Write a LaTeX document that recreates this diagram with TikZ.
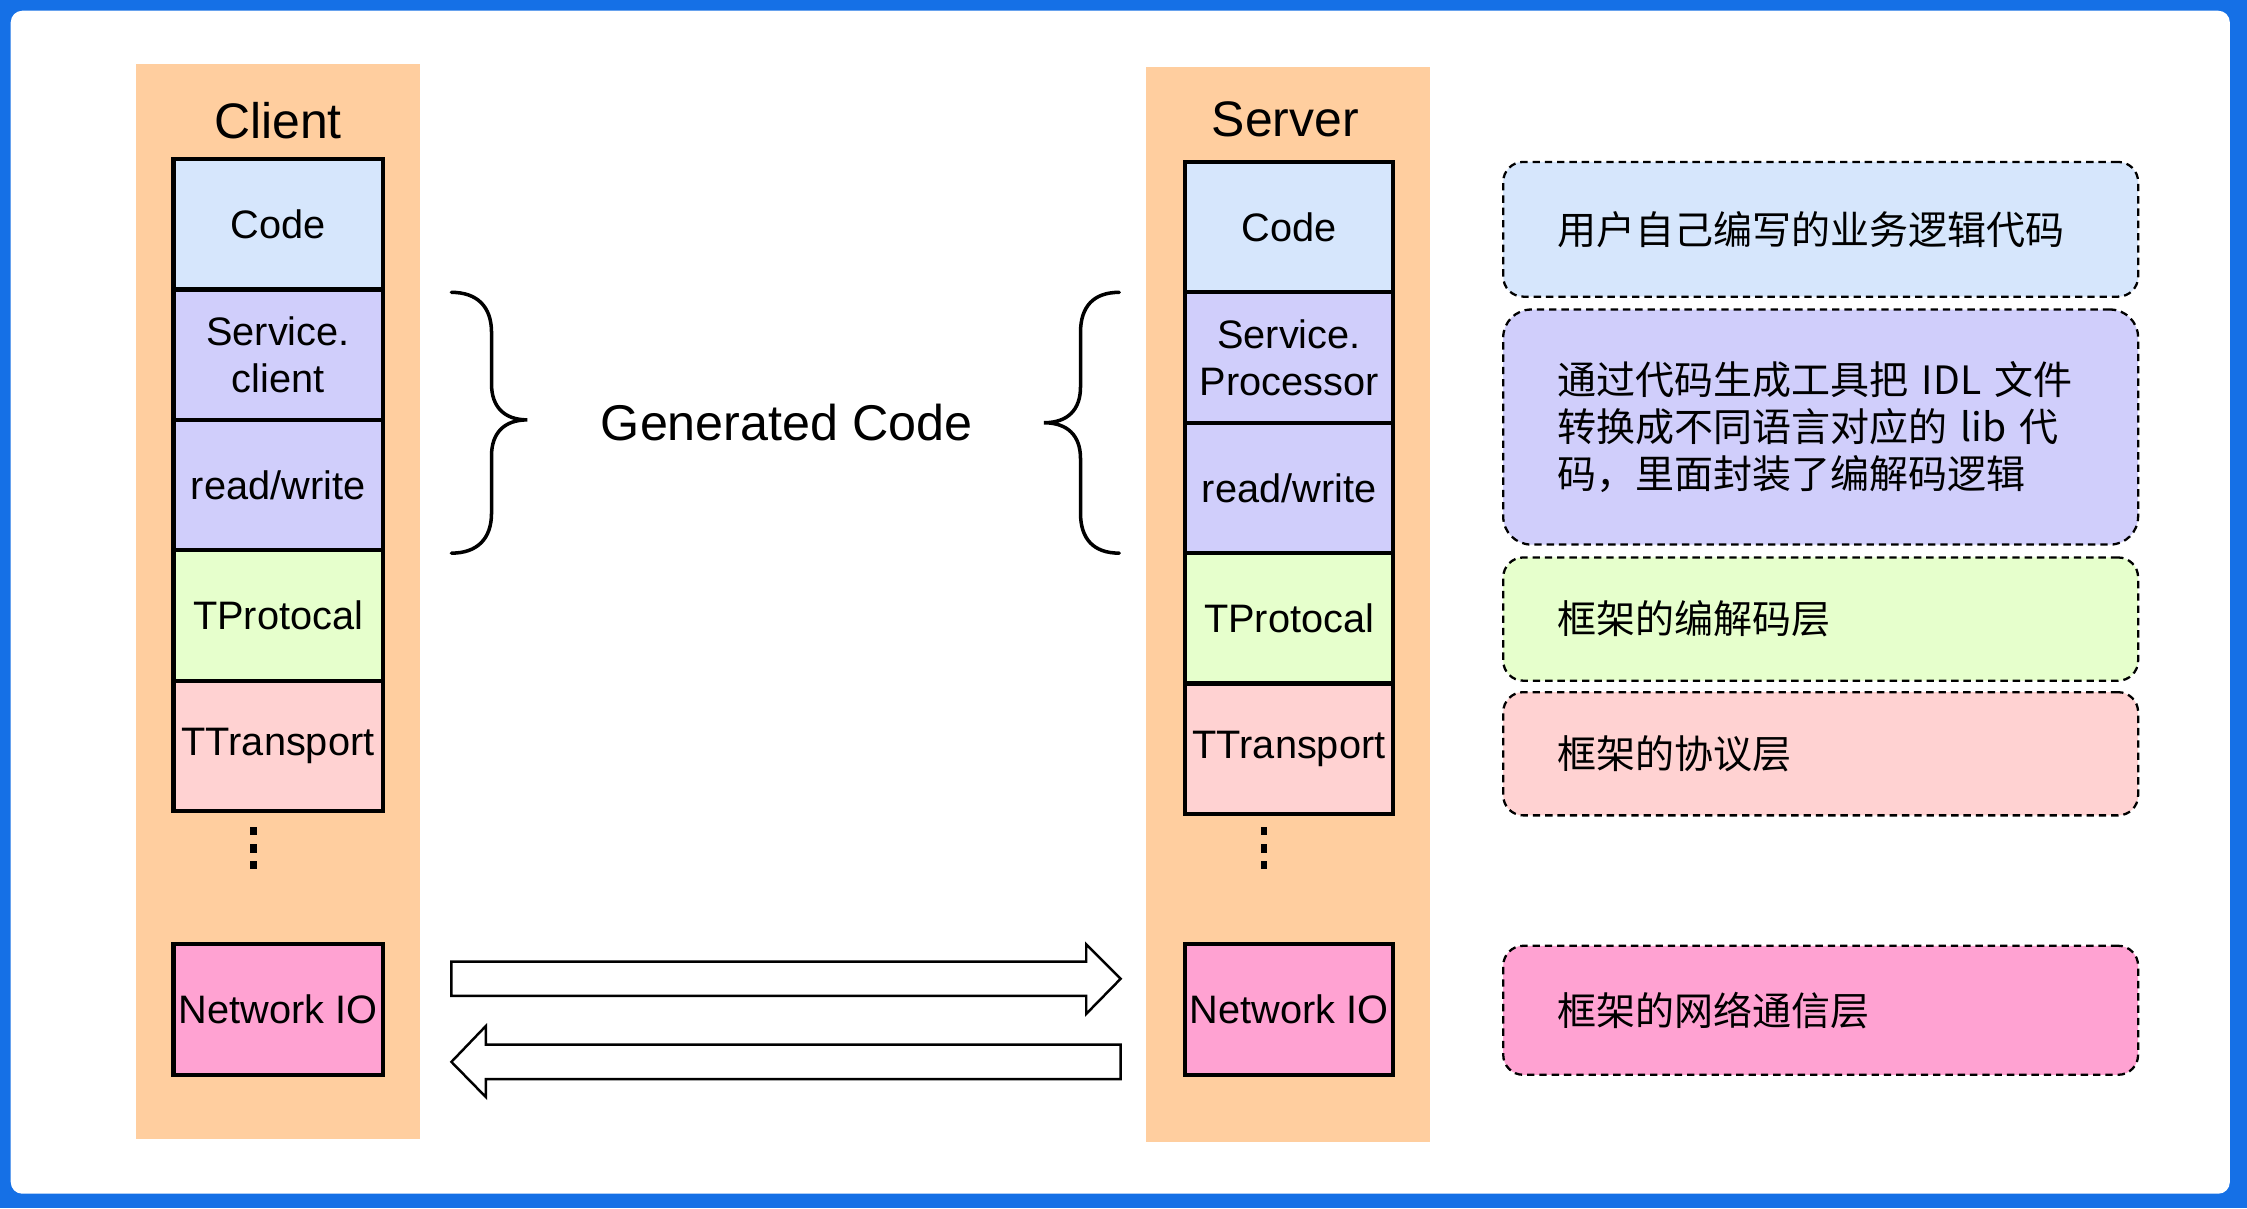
\documentclass[tikz,border=0pt]{standalone}
\usepackage{fontspec}
\setmainfont{Liberation Sans}
\newfontfamily\cjk{Noto Sans CJK SC}
\definecolor{framec}{HTML}{1570E6}
\definecolor{colc}{HTML}{FFCE9F}
\definecolor{codec}{HTML}{D6E6FC}
\definecolor{genc}{HTML}{D0CEFB}
\definecolor{protc}{HTML}{E6FFCC}
\definecolor{transc}{HTML}{FFD2D2}
\definecolor{netc}{HTML}{FFA2D2}
\begin{document}
\begin{tikzpicture}[x=0.01433cm, y=-0.01433cm,
  layer/.style={draw=black, line width=1.2pt, minimum width=2.092cm, minimum height=1.304cm,
    inner sep=0pt, align=center, font=\fontsize{11.3}{13.4}\selectfont},
  slayer/.style={layer, minimum width=2.078cm},
  desc/.style={draw=black, dash pattern=on 2.1pt off 1.4pt, line width=0.65pt, rounded corners=0.2cm,
    text width=5.259cm, inner xsep=0.5445cm, inner ysep=0pt, align=left,
    font=\cjk\fontsize{11.1}{13.3}\selectfont},
  title/.style={font=\fontsize{14.2}{16}\selectfont, inner sep=0pt},
  brace/.style={draw=black, line width=1pt, line cap=round},
  blockarrow/.style={draw=black, fill=white, line width=0.7pt, line join=miter}
]
\useasboundingbox (0,0) rectangle (1568,843);
% frame
\fill[framec] (0,0) rectangle (1568,843);
\fill[white, rounded corners=0.115cm] (7.5,7.5) rectangle (1556,833);

% columns
\fill[colc] (95,45) rectangle (293,795);
\fill[colc] (800,47) rectangle (998,797);

% titles
\node[title] (clientT) at (194,84) {Client};
\node[title] (serverT) at (897,83) {Server};

% client layers
\node[layer, fill=codec]  (c1) at (194,156.5) {Code};
\node[layer, fill=genc]   (c2) at (194,247.5) {Service.\\client};
\node[layer, fill=genc]   (c3) at (194,338.5) {read/write};
\node[layer, fill=protc]  (c4) at (194,429.5) {TProtocal};
\node[layer, fill=transc] (c5) at (194,520.5) {TTransport};
\node[layer, fill=netc]   (cn) at (194,704.5) {Network IO};

% server layers
\node[slayer, fill=codec]  (s1) at (899.5,158.5) {Code};
\node[slayer, fill=genc]   (s2) at (899.5,249.5) {Service.\\Processor};
\node[slayer, fill=genc]   (s3) at (899.5,340.5) {read/write};
\node[slayer, fill=protc]  (s4) at (899.5,431.5) {TProtocal};
\node[slayer, fill=transc] (s5) at (899.5,522.5) {TTransport};
\node[slayer, fill=netc]   (sn) at (899.5,704.5) {Network IO};

% dots
\foreach \yy in {580,592,603.6} {
  \fill[black] (177-2.3,\yy-3) rectangle (177+2.3,\yy+3);
  \fill[black] (882-2.3,\yy-3) rectangle (882+2.3,\yy+3);
}

% braces
\draw[brace] (315,204) .. controls (333,204) and (343,214) .. (343,232) -- (343,268)
  .. controls (343,284) and (352,293) .. (368,293)
  .. controls (352,293) and (343,302) .. (343,318) -- (343,358)
  .. controls (343,376) and (333,386) .. (315,386);
\draw[brace] (781,204) .. controls (763,204) and (754,214) .. (754,232) -- (754,270)
  .. controls (754,286) and (745,295) .. (728.5,295)
  .. controls (745,295) and (754,304) .. (754,320) -- (754,358)
  .. controls (754,376) and (763,386) .. (781,386);
\node[font=\fontsize{14.3}{17}\selectfont, inner sep=0pt] (gen) at (549,295) {Generated Code};

% block arrows
\draw[blockarrow] (315,671) -- (758,671) -- (758,659) -- (782,683) -- (758,707.5) -- (758,695) -- (315,695) -- cycle;
\draw[blockarrow] (782,729) -- (339,729) -- (339,716) -- (315,741) -- (339,765.5) -- (339,753) -- (782,753) -- cycle;

% descriptions
\node[desc, fill=codec, minimum height=1.347cm] (d1) at (1270.5,160) {用户自己编写的业务逻辑代码};
\node[desc, fill=genc, minimum height=2.350cm, rounded corners=0.28cm] (d2) at (1270.5,298)
  {通过代码生成工具把 IDL 文件\\转换成不同语言对应的 lib 代\\码，里面封装了编解码逻辑};
\node[desc, fill=protc, minimum height=1.232cm] (d3) at (1270.5,432) {框架的编解码层};
\node[desc, fill=transc, minimum height=1.232cm] (d4) at (1270.5,526) {框架的协议层};
\node[desc, fill=netc, minimum height=1.290cm] (d5) at (1270.5,705) {框架的网络通信层};
\end{tikzpicture}
\end{document}
